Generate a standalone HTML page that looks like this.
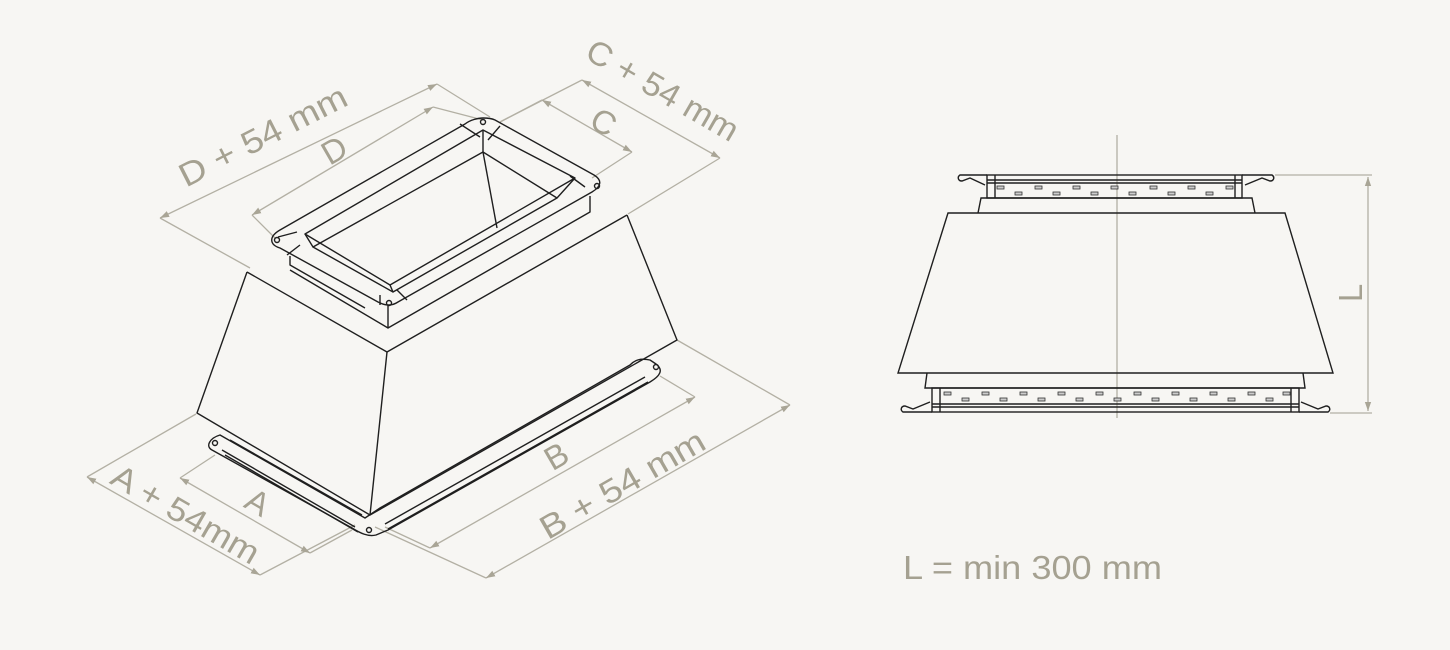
<!DOCTYPE html>
<html><head><meta charset="utf-8"><style>
html,body{margin:0;padding:0;background:#f7f6f3;}
svg{display:block}
text{font-family:"Liberation Sans",sans-serif;fill:#a5a191;}
</style></head><body>
<svg width="1450" height="650" viewBox="0 0 1450 650" xmlns="http://www.w3.org/2000/svg">
<rect width="1450" height="650" fill="#f7f6f3"/>
<defs>
<marker id="ar" viewBox="0 0 10 10" refX="10" refY="5" markerWidth="7" markerHeight="7" orient="auto-start-reverse"><path d="M0,1.5 L10,5 L0,8.5z" fill="#a9a596"/></marker>
</defs>
<!-- dimension lines -->
<g stroke="#b3b0a4" stroke-width="1.3" fill="none">
<line x1="160" y1="218" x2="437" y2="84" marker-start="url(#ar)" marker-end="url(#ar)"/>
<line x1="160" y1="218" x2="250" y2="268"/>
<line x1="437" y1="84" x2="490" y2="117"/>
<line x1="252" y1="215" x2="433" y2="107" marker-start="url(#ar)" marker-end="url(#ar)"/>
<line x1="252" y1="215" x2="275" y2="238"/>
<line x1="433" y1="107" x2="483" y2="120"/>
<line x1="582" y1="80" x2="720" y2="158" marker-start="url(#ar)" marker-end="url(#ar)"/>
<line x1="582" y1="80" x2="500" y2="122"/>
<line x1="720" y1="158" x2="628" y2="214"/>
<line x1="542" y1="100" x2="632" y2="152" marker-start="url(#ar)" marker-end="url(#ar)"/>
<line x1="542" y1="100" x2="500" y2="122"/>
<line x1="632" y1="152" x2="592" y2="178"/>
<line x1="87" y1="477" x2="260" y2="575" marker-start="url(#ar)" marker-end="url(#ar)"/>
<line x1="87" y1="477" x2="196" y2="414"/>
<line x1="260" y1="575" x2="355" y2="525"/>
<line x1="180" y1="478" x2="310" y2="553" marker-start="url(#ar)" marker-end="url(#ar)"/>
<line x1="180" y1="478" x2="215" y2="455"/>
<line x1="310" y1="553" x2="352" y2="530"/>
<line x1="430" y1="548" x2="695" y2="397" marker-start="url(#ar)" marker-end="url(#ar)"/>
<line x1="430" y1="548" x2="385" y2="527"/>
<line x1="695" y1="397" x2="660" y2="376"/>
<line x1="486" y1="578" x2="790" y2="405" marker-start="url(#ar)" marker-end="url(#ar)"/>
<line x1="486" y1="578" x2="375" y2="527"/>
<line x1="790" y1="405" x2="677" y2="340"/>
<line x1="1117" y1="135" x2="1117" y2="418"/>
<line x1="1368" y1="177" x2="1368" y2="411" marker-start="url(#ar)" marker-end="url(#ar)"/>
<line x1="1275" y1="175" x2="1372" y2="175"/>
<line x1="1330" y1="413" x2="1372" y2="413"/>
</g>
<!-- labels -->
<g font-size="33">
<text transform="translate(268,146) rotate(-27)" text-anchor="middle" textLength="184" lengthAdjust="spacingAndGlyphs">D + 54 mm</text>
<text transform="translate(340,160) rotate(-30)" text-anchor="middle">D</text>
<text transform="translate(657,100) rotate(30)" text-anchor="middle" textLength="170" lengthAdjust="spacingAndGlyphs">C + 54 mm</text>
<text transform="translate(598,132) rotate(30)" text-anchor="middle">C</text>
<text transform="translate(180,524) rotate(30)" text-anchor="middle" textLength="165" lengthAdjust="spacingAndGlyphs">A + 54mm</text>
<text transform="translate(252,512) rotate(30)" text-anchor="middle">A</text>
<text transform="translate(562,466) rotate(-30)" text-anchor="middle">B</text>
<text transform="translate(628,494) rotate(-30)" text-anchor="middle" textLength="185" lengthAdjust="spacingAndGlyphs">B + 54 mm</text>
<text transform="translate(1362,293) rotate(-90)" text-anchor="middle">L</text>
<text x="903" y="579" textLength="259" lengthAdjust="spacingAndGlyphs">L = min 300 mm</text>
</g>
<!-- left isometric drawing -->
<g stroke="#1f1f1f" stroke-width="1.4" fill="none" stroke-linejoin="round">
<path d="M247,272 L197,413 L370,515 L677,340 L627,215"/>
<path d="M247,272 L387,352 L627,215"/>
<path d="M387,352 L370,515"/>
<!-- neck under top flange -->
<path d="M290,256 L290,265 L365,308 M388,305 L388,328 L290,270"/>
<path d="M388,328 L590,212 L590,196"/>
<!-- top flange -->
<path d="M483,118 C478,118 470,120 465,124 L280,230 C268,237 270,245 280,248 L378,302 C386,306 392,306 398,302 L592,192 C602,186 602,180 594,175 L495,120 C491,118 487,118 483,118 Z"/>
<path d="M483,130 L305,234 L390,285 L575,178 Z"/>
<path d="M483,152 L313,247 L393,292 L557,198 Z"/>
<path d="M483,130 L483,152 M305,234 L313,247 M390,285 L393,292 M575,178 L557,198"/>
<path d="M483,152 L497,228"/>
<path d="M460,124 L480,137 M500,126 L488,140 M278,237 L297,232 M300,245 L287,255 M380,295 L380,305 M407,300 L397,290 M570,176 L585,187"/>
<circle cx="483" cy="122" r="2.5"/><circle cx="597" cy="186" r="2.5"/><circle cx="277" cy="240" r="2.5"/><circle cx="389" cy="303" r="2.5"/>
<!-- bottom flanges -->
<path d="M220,435 C210,438 205,446 212,450 L352,528 C360,533 368,537 376,535 L388,530 L650,382 C660,376 664,370 656,364 L650,360 C640,358 635,360 630,365 L380,508 L365,518 L220,435Z"/>
<path d="M222,450 L355,527 M225,455 L358,532 M385,524 L645,377 M388,529 L648,382"/>
<path d="M230,440 L362,515"/>
<circle cx="215" cy="443" r="2.5"/><circle cx="369" cy="530" r="2.5"/><circle cx="656" cy="367" r="2.5"/>
</g>
<!-- right elevation drawing -->
<g stroke="#1f1f1f" stroke-width="1.4" fill="none">
<path d="M948,213 L1285,213 L1333,373 L898,373 Z"/>
<path d="M978,213 L981,198 L1252,198 L1255,213"/>
<path d="M927,373 L925,388 L1305,388 L1303,373"/>
<rect x="987" y="175" width="255" height="23"/>
<path d="M995,175 L995,198 M1235,175 L1235,198 M987,180 L1242,180 M987,183 L1242,183"/>
<path d="M987,175 L960,175 C957,177 958,181 962,181 L970,178 L985,185"/>
<path d="M1242,175 L1272,175 C1275,177 1274,181 1270,181 L1262,178 L1245,185"/>
<rect x="932" y="388" width="367" height="24"/>
<path d="M940,388 L940,412 M1291,388 L1291,412 M932,404 L1299,404 M932,407 L1299,407"/>
<path d="M932,412 L903,412 C900,410 901,406 905,406 L913,409 L930,402"/>
<path d="M1299,412 L1328,412 C1331,410 1330,406 1326,406 L1318,409 L1301,402"/>
</g>
<g fill="#ccc" stroke="#333" stroke-width="0.8">
<rect x="997" y="186" width="7" height="3"/><rect x="1015" y="192" width="7" height="3"/>
<rect x="1035" y="186" width="7" height="3"/><rect x="1053" y="192" width="7" height="3"/>
<rect x="1073" y="186" width="7" height="3"/><rect x="1091" y="192" width="7" height="3"/>
<rect x="1111" y="186" width="7" height="3"/><rect x="1129" y="192" width="7" height="3"/>
<rect x="1150" y="186" width="7" height="3"/><rect x="1168" y="192" width="7" height="3"/>
<rect x="1188" y="186" width="7" height="3"/><rect x="1206" y="192" width="7" height="3"/>
<rect x="1226" y="186" width="7" height="3"/>
<rect x="944" y="392" width="7" height="3"/><rect x="962" y="398" width="7" height="3"/>
<rect x="982" y="392" width="7" height="3"/><rect x="1000" y="398" width="7" height="3"/>
<rect x="1020" y="392" width="7" height="3"/><rect x="1038" y="398" width="7" height="3"/>
<rect x="1058" y="392" width="7" height="3"/><rect x="1076" y="398" width="7" height="3"/>
<rect x="1096" y="392" width="7" height="3"/><rect x="1114" y="398" width="7" height="3"/>
<rect x="1134" y="392" width="7" height="3"/><rect x="1152" y="398" width="7" height="3"/>
<rect x="1172" y="392" width="7" height="3"/><rect x="1190" y="398" width="7" height="3"/>
<rect x="1210" y="392" width="7" height="3"/><rect x="1228" y="398" width="7" height="3"/>
<rect x="1248" y="392" width="7" height="3"/><rect x="1266" y="398" width="7" height="3"/>
<rect x="1283" y="392" width="7" height="3"/>
</g>
</svg>
</body></html>
